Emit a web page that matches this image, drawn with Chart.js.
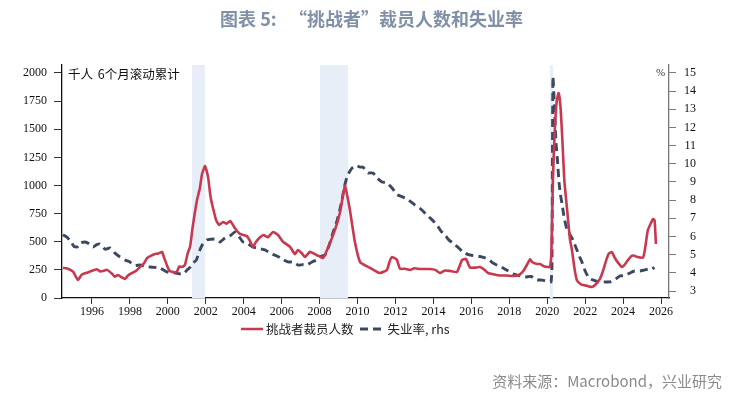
<!DOCTYPE html>
<html>
<head>
<meta charset="utf-8">
<script src="https://cdn.jsdelivr.net/npm/chart.js@4.4.1/dist/chart.umd.min.js"></script>
<style>
  html, body { margin: 0; padding: 0; background: #fff; }
  #wrap { position: relative; width: 743px; height: 395px; overflow: hidden; }
  #c { position: absolute; left: 0; top: 0; }
  .t { position: absolute; white-space: nowrap; }
  #title { left: 0; width: 743px; top: 5px; text-align: center; font: bold 18px "Noto Sans CJK SC", sans-serif; color: #8090a6; }
  #unit { left: 68px; top: 64px; font: 12.5px "Noto Sans CJK SC", sans-serif; color: #111; word-spacing: 2px; }
  #pct { left: 656px; top: 66px; font: 11px "Liberation Serif", serif; color: #333; }
  #legend { left: 241px; top: 319px; display: flex; align-items: center; font: 12.5px "Noto Sans CJK SC", sans-serif; color: #222; }
  #legend svg { display: block; }
  #src { right: 21px; top: 370px; font: 15px "Noto Sans CJK SC", sans-serif; color: #8a8a8a; }
</style>
</head>
<body>
<div id="wrap">
  <canvas id="c" width="743" height="395"></canvas>
  <div class="t" id="title">图表 5:&nbsp;&nbsp;&nbsp;“挑战者”裁员人数和失业率</div>
  <div class="t" id="unit">千人 6个月滚动累计</div>
  <div class="t" id="pct">%</div>
  <div class="t" id="legend">
    <svg width="22" height="10"><line x1="0" y1="5" x2="22" y2="5" stroke="#c8394f" stroke-width="2.5"/></svg>
    <span style="margin-left:3px;margin-right:6px">挑战者裁员人数</span>
    <svg width="25" height="10"><line x1="0" y1="5" x2="25" y2="5" stroke="#3c4862" stroke-width="2.8" stroke-dasharray="8,5"/></svg>
    <span style="margin-left:3px">失业率, rhs</span>
  </div>
  <div class="t" id="src">资料来源：Macrobond，兴业研究</div>
</div>
<script>
// ---- data ----
const layoffYears = [1994.47,1994.7,1995.0,1995.26,1995.45,1995.63,1995.9,1996.26,1996.45,1996.58,1996.8,1997.06,1997.2,1997.37,1997.55,1997.74,1997.9,1998.11,1998.35,1998.53,1998.75,1998.9,1999.1,1999.32,1999.5,1999.69,1999.8,2000.0,2000.11,2000.3,2000.48,2000.6,2000.75,2000.9,2001.05,2001.17,2001.3,2001.43,2001.55,2001.69,2001.8,2001.96,2002.12,2002.25,2002.38,2002.55,2002.7,2002.91,2003.1,2003.28,2003.54,2003.8,2004.17,2004.35,2004.49,2004.65,2004.86,2005.05,2005.28,2005.54,2005.81,2006.07,2006.44,2006.7,2006.86,2007.05,2007.23,2007.49,2007.86,2008.0,2008.18,2008.44,2008.81,2009.07,2009.2,2009.33,2009.47,2009.6,2009.86,2010.13,2010.4,2010.66,2011.03,2011.18,2011.55,2011.7,2011.82,2012.0,2012.08,2012.24,2012.5,2012.77,2013.0,2013.29,2013.55,2013.82,2014.1,2014.35,2014.6,2014.87,2015.24,2015.51,2015.72,2015.93,2016.2,2016.46,2016.7,2016.88,2017.2,2017.51,2017.85,2018.19,2018.5,2018.72,2018.95,2019.1,2019.2,2019.46,2019.62,2019.85,2020.04,2020.14,2020.22,2020.3,2020.4,2020.5,2020.6,2020.7,2020.8,2020.9,2021.04,2021.2,2021.3,2021.45,2021.57,2021.75,2021.9,2022.1,2022.36,2022.55,2022.78,2022.94,2023.1,2023.25,2023.41,2023.55,2023.75,2023.94,2024.1,2024.26,2024.45,2024.6,2024.75,2025.05,2025.15,2025.3,2025.45,2025.58,2025.66,2025.73];
const layoffValues = [267,262,235,160,205,220,235,255,235,240,250,215,190,205,185,169,200,222,245,275,310,355,375,391,395,410,360,270,240,230,235,280,275,293,400,453,620,764,880,978,1100,1173,1076,900,800,690,650,675,660,685,620,570,550,500,455,500,540,560,540,587,560,500,455,390,427,400,365,410,380,370,355,445,605,755,880,1000,900,780,500,320,290,267,231,222,249,330,364,350,338,260,260,249,265,258,258,258,250,222,245,240,231,338,347,270,270,275,250,222,210,200,200,196,205,235,300,345,320,302,302,280,275,275,400,1050,1500,1750,1822,1700,1400,1050,800,520,430,250,155,125,115,108,98,120,170,240,330,395,409,360,310,275,300,338,375,375,364,360,430,600,660,702,690,480];

const unempYears = [1994.47,1994.68,1994.9,1995.05,1995.21,1995.4,1995.63,1995.85,1996.05,1996.25,1996.42,1996.7,1996.95,1997.2,1997.48,1997.75,1998.0,1998.25,1998.53,1998.8,1999.06,1999.3,1999.59,1999.85,2000.11,2000.35,2000.64,2000.85,2001.01,2001.17,2001.33,2001.5,2001.69,2001.85,2002.06,2002.25,2002.49,2002.75,2003.01,2003.3,2003.54,2003.75,2003.96,2004.2,2004.49,2004.8,2005.12,2005.45,2005.75,2006.05,2006.33,2006.6,2006.86,2007.1,2007.33,2007.6,2007.86,2008.05,2008.28,2008.5,2008.7,2008.9,2009.05,2009.18,2009.3,2009.44,2009.6,2009.76,2009.95,2010.13,2010.29,2010.45,2010.55,2010.81,2011.05,2011.29,2011.55,2011.82,2012.1,2012.4,2012.7,2013.03,2013.35,2013.66,2013.95,2014.19,2014.4,2014.61,2014.82,2015.03,2015.3,2015.56,2015.85,2016.19,2016.45,2016.72,2016.95,2017.14,2017.4,2017.67,2017.95,2018.19,2018.5,2018.83,2019.15,2019.46,2019.75,2020.04,2020.2,2020.25,2020.3,2020.38,2020.46,2020.54,2020.62,2020.7,2020.78,2020.9,2021.04,2021.2,2021.36,2021.55,2021.7,2021.83,2022.0,2022.15,2022.3,2022.45,2022.68,2023.0,2023.31,2023.6,2023.84,2024.1,2024.36,2024.6,2024.89,2025.1,2025.3,2025.52,2025.65];
const unempValues = [6.1,5.97,5.7,5.45,5.42,5.65,5.7,5.6,5.42,5.55,5.59,5.3,5.37,5.1,4.87,4.7,4.6,4.4,4.43,4.35,4.32,4.3,4.27,4.1,3.99,4.0,3.94,3.95,4.16,4.3,4.54,4.7,5.26,5.6,5.81,5.85,5.86,5.7,5.92,6.05,6.25,6.0,5.7,5.6,5.42,5.35,5.26,5.05,4.93,4.75,4.6,4.6,4.43,4.45,4.43,4.6,4.71,4.9,4.98,5.5,6.19,6.8,7.4,8.0,8.7,9.27,9.6,9.82,9.9,9.82,9.82,9.6,9.5,9.5,9.2,9.0,8.95,8.67,8.3,8.17,8.0,7.73,7.5,7.18,6.9,6.63,6.3,6.08,5.8,5.64,5.4,5.15,5.0,4.93,4.9,4.82,4.7,4.54,4.4,4.27,4.1,3.94,3.85,3.77,3.8,3.61,3.6,3.5,3.5,4.4,14.8,13.2,11.2,10.2,9.0,8.3,7.8,7.0,6.4,6.1,5.8,5.3,4.9,4.6,4.1,3.8,3.65,3.6,3.5,3.5,3.5,3.65,3.83,3.85,3.99,4.1,4.1,4.15,4.2,4.21,4.3];

const xTickYears = [1996,1998,2000,2002,2004,2006,2008,2010,2012,2014,2016,2018,2020,2022,2024,2026];
const leftTicks = [0,250,500,750,1000,1250,1500,1750,2000];
const rightTicks = [3,4,5,6,7,8,9,10,11,12,13,14,15];
const recessions = [[2001.27,2001.96],[2008.02,2009.5],[2020.14,2020.3]];
const seriesNames = ['挑战者裁员人数','失业率, rhs'];

// ---- chart ----
const bands = {
  id: 'bands',
  beforeDatasetsDraw(chart) {
    const {ctx, chartArea, scales} = chart;
    ctx.save();
    ctx.fillStyle = '#e8eef7';
    recessions.forEach(([a, b]) => {
      const x0 = scales.x.getPixelForValue(a);
      const x1 = scales.x.getPixelForValue(b);
      ctx.fillRect(x0, chartArea.top, x1 - x0, chartArea.bottom - chartArea.top);
    });
    ctx.restore();
  }
};

const tickFont = {family: '"Liberation Serif", "Times New Roman", serif', size: 12};

new Chart(document.getElementById('c'), {
  type: 'line',
  data: {
    datasets: [
      {
        label: seriesNames[0],
        data: layoffYears.map((x, i) => ({x, y: layoffValues[i]})),
        yAxisID: 'y',
        borderColor: '#c8394f',
        borderWidth: 2.6,
        pointRadius: 0,
        tension: 0.15,
        fill: false
      },
      {
        label: seriesNames[1],
        data: unempYears.map((x, i) => ({x, y: unempValues[i]})),
        yAxisID: 'y1',
        borderColor: '#3c4862',
        borderWidth: 2.9,
        borderDash: [8, 5],
        pointRadius: 0,
        tension: 0.15,
        fill: false
      }
    ]
  },
  options: {
    responsive: false,
    devicePixelRatio: 1,
    animation: false,
    layout: {padding: {top: 65, bottom: 72, left: 0, right: 47}},
    plugins: {legend: {display: false}, tooltip: {enabled: false}, title: {display: false}},
    scales: {
      x: {
        type: 'linear',
        position: 'bottom',
        min: 1994.42,
        max: 2026.42,
        afterBuildTicks: s => { s.ticks = xTickYears.map(v => ({value: v})); },
        afterFit: s => { s.height = 25; },
        ticks: {callback: v => String(v), font: tickFont, color: '#111', maxRotation: 0, autoSkip: false, padding: 1},
        grid: {drawOnChartArea: false, drawTicks: true, tickLength: 6, color: '#333', tickWidth: 1},
        border: {display: true, color: '#111', width: 1.3}
      },
      y: {
        position: 'left',
        min: 0,
        max: 2071,
        afterBuildTicks: s => { s.ticks = leftTicks.map(v => ({value: v})); },
        afterFit: s => { s.width = 62; },
        ticks: {font: tickFont, color: '#111', padding: 7, callback: v => String(v)},
        grid: {drawOnChartArea: false, drawTicks: true, tickLength: 8, color: '#333'},
        border: {display: true, color: '#111', width: 1.3}
      },
      y1: {
        position: 'right',
        min: 2.615,
        max: 15.44,
        afterBuildTicks: s => { s.ticks = rightTicks.map(v => ({value: v})); },
        afterFit: s => { s.width = 27; },
        ticks: {font: tickFont, color: '#111', padding: 6, crossAlign: 'far', callback: v => String(v)},
        grid: {drawOnChartArea: false, drawTicks: true, tickLength: 7, color: '#777'},
        border: {display: true, color: '#777', width: 1.3}
      }
    }
  },
  plugins: [bands]
});
</script>
</body>
</html>
